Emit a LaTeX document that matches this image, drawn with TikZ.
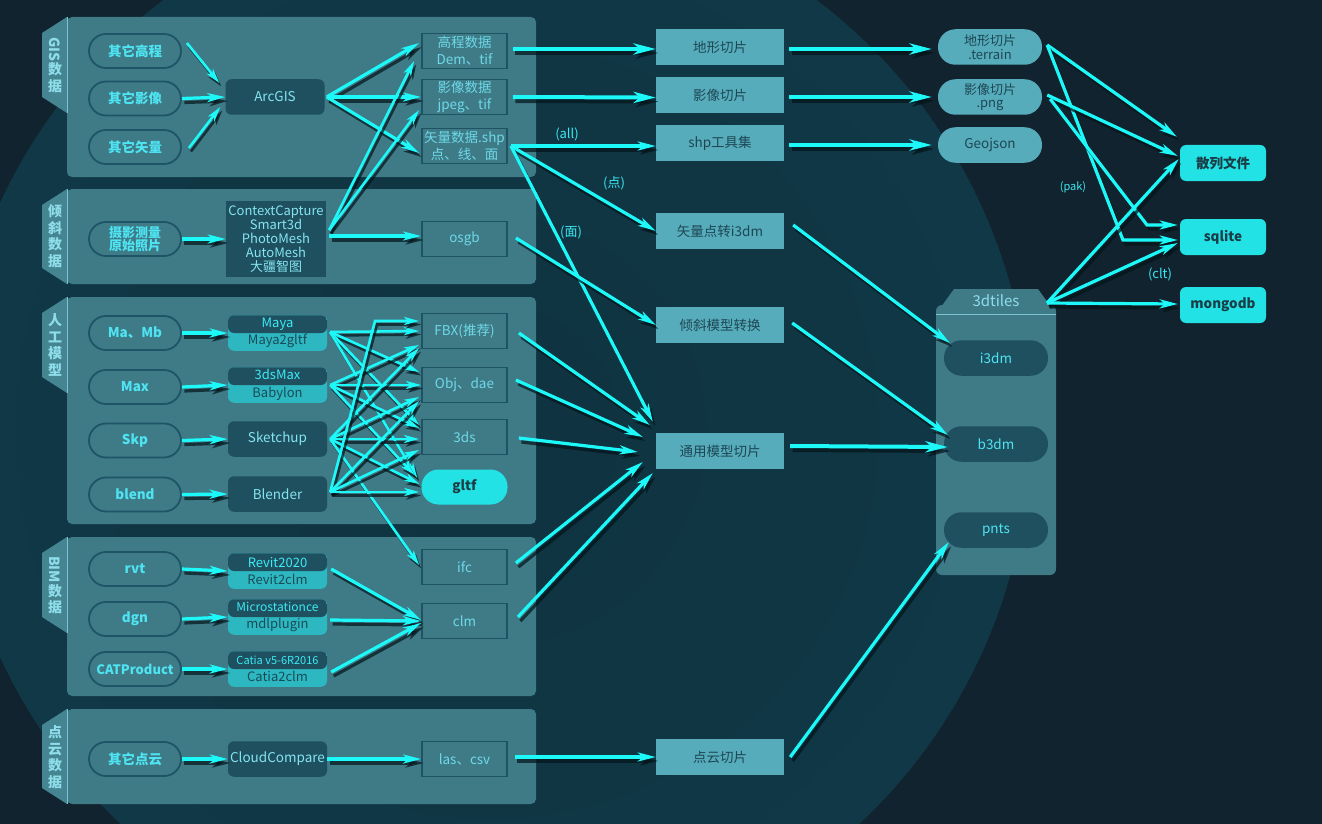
\documentclass[tikz,border=0pt]{standalone}
\usepackage{fontspec}
\setmainfont{Noto Sans CJK SC}
\usepackage{graphicx}
\usetikzlibrary{arrows.meta,calc}
\definecolor{bgc}{HTML}{11232E}
\definecolor{gA}{HTML}{0F3240}
\definecolor{gB}{HTML}{113A48}
\definecolor{gC}{HTML}{17505F}
\definecolor{gD}{HTML}{143C4A}
\definecolor{panelc}{HTML}{3F7A87}
\definecolor{tabc}{HTML}{458592}
\definecolor{tabline}{HTML}{7CC3CF}
\definecolor{tabt}{HTML}{8FDDEA}
\definecolor{pillb}{HTML}{1E5466}
\definecolor{pillt}{HTML}{4FE4F2}
\definecolor{darkn}{HTML}{1E5060}
\definecolor{toolt}{HTML}{86E4EF}
\definecolor{splitlo}{HTML}{2DB8C1}
\definecolor{toptxt}{HTML}{3DEAF5}
\definecolor{bottxt}{HTML}{1B4A57}
\definecolor{fmtb}{HTML}{1E5364}
\definecolor{fmtt}{HTML}{6ED9E7}
\definecolor{midc}{HTML}{56ACBB}
\definecolor{midt}{HTML}{1E4654}
\definecolor{brightc}{HTML}{22E2E6}
\definecolor{brightt}{HTML}{1A3D46}
\definecolor{arrowc}{HTML}{1DF9F9}
\definecolor{shadowc}{HTML}{04141A}
\definecolor{lblc}{HTML}{3CE8F2}
\pgfdeclareradialshading{globe}{\pgfpoint{0bp}{0bp}}{color(0bp)=(gA); color(32bp)=(gB); color(40bp)=(gC); color(44bp)=(gD); color(50bp)=(bgc)}
\newcommand\tpx[1]{{\color{toptxt}#1}}
\newcommand\btx[1]{{\color{bottxt}#1}}
\tikzset{
  base/.style={inner sep=1pt, align=center, font=\fontsize{13.5}{16}\selectfont},
  pill/.style={base, rectangle, rounded corners=17pt, draw=pillb, line width=1.8pt, minimum width=92pt, minimum height=34pt, text=pillt, font=\bfseries\fontsize{13.5}{14}\selectfont},
  tool/.style={base, rectangle, rounded corners=6pt, fill=darkn, minimum width=99pt, minimum height=35.5pt, text=toolt},
  split/.style={tool, fill=splitlo, font=\fontsize{13}{17.5}\selectfont, path picture={\fill[darkn] (path picture bounding box.north west) rectangle (path picture bounding box.east);}},
  ccbox/.style={base, rectangle, fill=darkn, minimum width=100pt, minimum height=76pt, text=toolt, font=\fontsize{13}{14}\selectfont},
  fmt/.style={base, rectangle, draw=fmtb, line width=1.8pt, minimum width=85pt, minimum height=35pt, text=fmtt, font=\fontsize{13.5}{17}\selectfont},
  gltfbox/.style={base, rectangle, rounded corners=17pt, fill=brightc, minimum width=86pt, minimum height=35pt, text=brightt, font=\bfseries\fontsize{13.5}{16}\selectfont},
  mid/.style={base, rectangle, fill=midc, minimum width=128pt, minimum height=36pt, text=midt},
  opill/.style={base, rectangle, rounded corners=17.5pt, fill=midc, minimum width=104pt, minimum height=35.5pt, text=midt, font=\fontsize{13}{13.5}\selectfont},
  bright/.style={base, rectangle, rounded corners=6pt, fill=brightc, minimum width=86pt, minimum height=36pt, text=brightt, font=\bfseries\fontsize{13.5}{16}\selectfont},
  inpill/.style={base, rectangle, rounded corners=17.5pt, fill=darkn, minimum width=104pt, minimum height=35.5pt, text=pillt},
  tabtxt/.style={align=center, inner sep=0pt, text=tabt, font=\bfseries\fontsize{14}{16.5}\selectfont},
  lbl/.style={inner sep=0pt, text=lblc, font=\fontsize{13}{14}\selectfont},
  arr/.style={preaction={draw=shadowc, opacity=0.7, line width=4pt, -{Stealth[length=22pt,width=11pt,inset=6pt]}, transform canvas={shift={(2.5pt,-4pt)}}},
    draw=arrowc, line width=4pt, -{Stealth[length=22pt,width=11pt,inset=6pt]}},
  arrm/.style={preaction={draw=shadowc, opacity=0.7, line width=3.2pt, -{Stealth[length=18pt,width=9pt,inset=5pt]}, transform canvas={shift={(2.5pt,-4pt)}}},
    draw=arrowc, line width=3.2pt, -{Stealth[length=18pt,width=9pt,inset=5pt]}},
  arrt/.style={preaction={draw=shadowc, opacity=0.7, line width=2.6pt, -{Stealth[length=15pt,width=8pt,inset=4pt]}, transform canvas={shift={(2pt,-3.5pt)}}},
    draw=arrowc, line width=2.6pt, -{Stealth[length=15pt,width=8pt,inset=4pt]}},
}
\begin{document}
\begin{tikzpicture}[x=1pt,y=-1pt]
\useasboundingbox (0,0) rectangle (1322,824);
\fill[bgc] (0,0) rectangle (1322,824);
\begin{scope}
\clip (0,0) rectangle (1322,824);
\shade[shading=globe] (490,430) circle (540);
\end{scope}

% panels with tabs
\foreach \t/\b/\tb in {17/177/113, 189/284/284, 297/524/393, 537/696/633, 709/804/804} {
  \fill[panelc, rounded corners=5pt] (67,\t) rectangle (536,\b);
  \fill[tabc] (67,\t) -- (42,\t+16) -- (42,\tb-16) -- (67,\tb) -- cycle;
  \draw[tabline, line width=0.8pt] (67,\t) -- (67,\tb);
}
% 3dtiles container
\fill[panelc, rounded corners=6pt] (936,305) rectangle (1056,575);
\fill[panelc] (936,314) -- (954,289) -- (1038,289) -- (1056,314) -- cycle;
\draw[tabline, line width=0.8pt] (936,314) -- (1056,314);

% tab texts
\node[tabtxt] (t1) at (55,65) {\rotatebox[origin=c]{-90}{GIS}\\数\\据};
\node[tabtxt] (t2) at (55,236) {倾\\斜\\数\\据};
\node[tabtxt] (t3) at (55,345) {人\\工\\模\\型};
\node[tabtxt] (t4) at (55,585) {\rotatebox[origin=c]{-90}{BIM}\\数\\据};
\node[tabtxt] (t5) at (55,757) {点\\云\\数\\据};

% GIS
\node[pill] (g1) at (135,51) {其它高程};
\node[pill] (g2) at (135,98.5) {其它影像};
\node[pill] (g3) at (135,147) {其它矢量};
\node[tool] (arc) at (275,97) {ArcGIS};
\node[fmt] (dem) at (464.5,51) {高程数据\\Dem、tif};
\node[fmt] (img) at (464.5,97) {影像数据\\jpeg、tif};
\node[fmt] (shp) at (464.5,146) {矢量数据.shp\\点、线、面};

% oblique
\node[pill, font=\bfseries\fontsize{13}{13.5}\selectfont] (ph) at (135,239) {摄影测量\\原始照片};
\node[ccbox] (cc) at (276,239) {ContextCapture\\Smart3d\\PhotoMesh\\AutoMesh\\大疆智图};
\node[fmt] (osgb) at (464.5,239) {osgb};

% manual models
\node[pill] (p1) at (135,333) {Ma、Mb};
\node[pill] (p2) at (135,387) {Max};
\node[pill] (p3) at (135,440.5) {Skp};
\node[pill] (p4) at (135,494.5) {blend};
\node[split] (maya) at (277.5,333) {\tpx{Maya}\\\btx{Maya2gltf}};
\node[split] (max) at (277.5,385) {\tpx{3dsMax}\\\btx{Babylon}};
\node[tool] (sk) at (277.5,439) {Sketchup};
\node[tool] (bl) at (277.5,494) {Blender};
\node[fmt] (fbx) at (464.5,331) {FBX(推荐)};
\node[fmt] (obj) at (464.5,385) {Obj、dae};
\node[fmt] (tds) at (464.5,437) {3ds};
\node[gltfbox] (gl) at (464.5,487) {gltf};

% BIM
\node[pill] (b1) at (135,569) {rvt};
\node[pill] (b2) at (135,619) {dgn};
\node[pill, font=\bfseries\fontsize{13}{14}\selectfont] (b3) at (135,669) {CATProduct};
\node[split] (rev) at (277.5,571) {\tpx{Revit2020}\\\btx{Revit2clm}};
\node[split] (ms) at (277.5,617) {\tpx{\fontsize{12}{14}\selectfont Microstationce}\\\btx{mdlplugin}};
\node[split] (cat) at (277.5,669) {\tpx{\fontsize{11}{13}\selectfont Catia v5-6R2016}\\\btx{Catia2clm}};
\node[fmt] (ifc) at (464.5,567) {ifc};
\node[fmt] (clm) at (464.5,621) {clm};

% point cloud
\node[pill] (c1) at (135,759) {其它点云};
\node[tool] (cloud) at (277.5,759) {CloudCompare};
\node[fmt] (las) at (464.5,759) {las、csv};

% middle column
\node[mid] (dx) at (720,47) {地形切片};
\node[mid] (yx) at (720,95) {影像切片};
\node[mid] (st) at (720,143) {shp工具集};
\node[mid] (vp) at (720,231) {矢量点转i3dm};
\node[mid] (qx) at (720,325) {倾斜模型转换};
\node[mid] (gm) at (720,451) {通用模型切片};
\node[mid] (dy) at (720,757) {点云切片};

% right
\node[opill] (tr) at (990,47) {地形切片\\.terrain};
\node[opill] (png) at (990,97) {影像切片\\.png};
\node[opill, font=\fontsize{13.5}{16}\selectfont] (gj) at (990,145) {Geojson};
\node[bright] (hash) at (1223,163) {散列文件};
\node[bright] (sq) at (1223,237) {sqlite};
\node[bright] (mg) at (1223,305) {mongodb};

\node[text=tabt, font=\fontsize{15}{16}\selectfont, inner sep=0pt] (td) at (996,301) {3dtiles};
\node[inpill] (i3) at (996,358) {i3dm};
\node[inpill] (b3d) at (996,444) {b3dm};
\node[inpill] (pn) at (996,530) {pnts};
\coordinate (tdout) at (1047,303);

% labels
\node[lbl] (lall) at (567,134) {(all)};
\node[lbl] (ldot) at (614,183) {(点)};
\node[lbl] (lface) at (571,232) {(面)};
\node[lbl, font=\fontsize{11}{12}\selectfont] (lpak) at (1073,187) {(pak)};
\node[lbl] (lclt) at (1160,274) {(clt)};

% waypoints
\coordinate (w1) at (375,321);
\coordinate (w2) at (1123,240);
\coordinate (w3) at (1147,225);

% ---- arrows: GIS
\draw[arrt] ($(g1.east)+(5,-8)$) -- ($(arc.west)+(-6,-14)$);
\draw[arrm] (g2.east) -- (arc.west);
\draw[arrt] ($(g3.east)+(7,1)$) -- ($(arc.west)+(-5,10)$);
\draw[arrm] ($(arc.east)+(2,0)$) -- ($(dem.west)+(-2,-8)$);
\draw[arrm] ($(arc.east)+(2,0)$) -- (img.west);
\draw[arrm] ($(arc.east)+(2,0)$) -- ($(shp.west)+(-2,7)$);
% oblique
\draw[arrm] (ph.east) -- (cc.west);
\draw[arrt] ($(cc.east)+(3,-9)$) -- ($(dem.west)+(-7,10)$);
\draw[arrt] ($(cc.east)+(3,-9)$) -- ($(img.west)+(-2,13)$);
\draw[arrm] ($(cc.east)+(3,-3)$) -- ($(osgb.west)+(0,-3)$);
% manual models: pills to tools
\draw[arrm] (p1.east) -- (maya.west);
\draw[arrm] (p2.east) -- (max.west);
\draw[arrm] (p3.east) -- (sk.west);
\draw[arrm] (p4.east) -- (bl.west);
% tools to formats
\draw[arrt] ($(maya.east)+(3,-1)$) -- ($(fbx.west)+(-2,0)$);
\draw[arrt] ($(maya.east)+(3,-1)$) -- ($(obj.west)+(-2,-13)$);
\draw[arrt] ($(maya.east)+(3,-1)$) -- ($(tds.west)+(-2,-12)$);
\draw[arrt] ($(maya.east)+(3,-1)$) -- ($(gl.west)+(-4,-9)$);
\draw[arrt] ($(max.east)+(3,0)$) -- ($(fbx.west)+(-2,14)$);
\draw[arrt] ($(max.east)+(3,0)$) -- (obj.west);
\draw[arrt] ($(max.east)+(3,0)$) -- ($(tds.west)+(-2,-9)$);
\draw[arrt] ($(max.east)+(3,0)$) -- ($(gl.west)+(-7,-12)$);
\draw[arrt] ($(sk.east)+(3,0)$) -- ($(fbx.west)+(-2,17)$);
\draw[arrt] ($(sk.east)+(3,0)$) -- ($(obj.west)+(-2,12)$);
\draw[arrt] ($(sk.east)+(3,0)$) -- ($(tds.west)+(-2,2)$);
\draw[arrt] ($(sk.east)+(3,0)$) -- ($(gl.west)+(-2,-3)$);
\draw[arrt] ($(sk.east)+(3,0)$) -- ($(ifc.west)+(-2,-2)$);
\draw[arrt] ($(bl.east)+(3,-2)$) -- (w1) -- ($(fbx.west)+(-2,-10)$);
\draw[arrt] ($(bl.east)+(3,-2)$) -- ($(obj.west)+(-2,16)$);
\draw[arrt] ($(bl.east)+(3,-2)$) -- ($(tds.west)+(-2,13)$);
\draw[arrt] ($(bl.east)+(3,-2)$) -- ($(gl.west)+(-2,5)$);
% BIM
\draw[arrm] (b1.east) -- (rev.west);
\draw[arrm] (b2.east) -- (ms.west);
\draw[arrm] (b3.east) -- (cat.west);
\draw[arrm] ($(rev.east)+(4,-2)$) -- ($(clm.west)+(0,-1)$);
\draw[arrm] ($(ms.east)+(3,3)$) -- ($(clm.west)+(0,0)$);
\draw[arrm] ($(cat.east)+(4,3)$) -- ($(clm.west)+(0,2)$);
% point cloud
\draw[arrm] (c1.east) -- (cloud.west);
\draw[arrm] (cloud.east) -- (las.west);

% ---- to middle column
\draw[arr] ($(dem.east)+(5,-2)$) -- ($(dx.west)+(0,2)$);
\draw[arr] ($(img.east)+(5,0)$) -- ($(yx.west)+(0,2.5)$);
\draw[arrm] ($(shp.east)+(3,0)$) -- ($(st.west)+(0,3)$);
\draw[arrm] ($(shp.east)+(3,0)$) -- (vp.west);
\draw[arrm] ($(shp.east)+(3,0)$) -- ($(gm.north west)+(-3,-11)$);
\draw[arrm] ($(osgb.east)+(8,-1)$) -- (qx.west);
\draw[arrm] ($(fbx.east)+(11,2)$) -- ($(gm.west)+(-6,-26)$);
\draw[arrm] ($(obj.east)+(8,-5)$) -- ($(gm.west)+(-13,-14)$);
\draw[arrm] ($(tds.east)+(11,1)$) -- ($(gm.west)+(-18,1)$);
\draw[arrm] ($(ifc.east)+(8,-4)$) -- ($(gm.west)+(-13,11)$);
\draw[arrm] ($(clm.east)+(10,-4)$) -- ($(gm.west)+(-3,22)$);
\draw[arrm] ($(las.east)+(7,-2)$) -- (dy.west);

% ---- middle to right
\draw[arr] ($(dx.east)+(5,2)$) -- ($(tr.west)+(-6,2)$);
\draw[arr] ($(yx.east)+(5,2)$) -- ($(png.west)+(-6,0)$);
\draw[arr] ($(st.east)+(5,2)$) -- ($(gj.west)+(-6,0)$);
\draw[arrm] ($(vp.east)+(9,-6)$) -- ($(i3.west)+(6,-15)$);
\draw[arrm] ($(qx.east)+(8,-2)$) -- ($(b3d.west)+(4,-9)$);
\draw[arr] ($(gm.east)+(6,-5)$) -- ($(b3d.west)+(4,3)$);
\draw[arrm] ($(dy.east)+(6,0)$) -- ($(pn.west)+(5,12)$);

% ---- storage
\draw[arrm] ($(tr.east)+(5,-2)$) -- ($(hash.north west)+(-3,-8)$);
\draw[arrm] ($(tr.east)+(5,-2)$) -- (w2) -- ($(sq.west)+(-2,3)$);
\draw[arrm] ($(png.east)+(5,-2)$) -- ($(hash.west)+(-2,-7)$);
\draw[arrm] ($(png.east)+(8,2)$) -- (w3) -- ($(sq.west)+(-2,-12)$);
\draw[arrm] (tdout) -- ($(hash.west)+(-1,-4)$);
\draw[arrm] (tdout) -- ($(sq.west)+(-2,6)$);
\draw[arrm] (tdout) -- ($(mg.west)+(-2,-1)$);
\end{tikzpicture}
\end{document}
